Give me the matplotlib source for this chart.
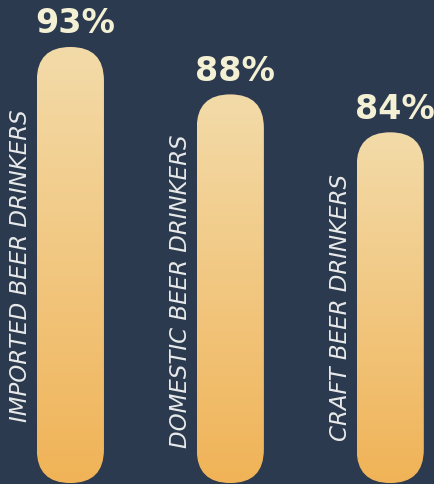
import numpy as np
import matplotlib
matplotlib.use("Agg")
import matplotlib.pyplot as plt
from matplotlib.patches import FancyBboxPatch
from matplotlib.colors import LinearSegmentedColormap
from matplotlib.transforms import blended_transform_factory

# dados
categorias = ["IMPORTED BEER DRINKERS", "DOMESTIC BEER DRINKERS", "CRAFT BEER DRINKERS"]
percentuais = [93, 88, 84]
rotulos = ["93%", "88%", "84%"]

fundo = "#2b3a4f"
base = 47.0
largura = 0.42

fig = plt.figure(figsize=(4.35, 4.85), dpi=100, facecolor=fundo)
ax = fig.add_axes([0, 0, 1, 1])
ax.set_facecolor(fundo)
ax.set_xlim(-0.44, 2.28)
ax.set_ylim(46.9, 98.06)
ax.axis("off")

# escala: unidades de y por pixel / unidades de x por pixel
px_x = (2.28 + 0.44) / 435
px_y = (98.06 - 46.9) / 485
aspecto = px_y / px_x

cmap = LinearSegmentedColormap.from_list("cerveja", ["#f0b357", "#f3dba9"])
grad = np.linspace(0, 1, 256).reshape(-1, 1)

trans_lbl = blended_transform_factory(ax.transData, ax.transAxes)
pos_rotulo = [266, 291, 308]

for i, (cat, val, txt) in enumerate(zip(categorias, percentuais, rotulos)):
    x0 = i - largura / 2
    barra = FancyBboxPatch((x0, base), largura, val - base,
                           boxstyle=f"round,pad=0,rounding_size={largura / 2}",
                           mutation_aspect=aspecto, facecolor="none",
                           edgecolor="none")
    ax.add_patch(barra)
    img = ax.imshow(grad, cmap=cmap, origin="lower", aspect="auto",
                    extent=(x0, x0 + largura, base, val), zorder=2)
    img.set_clip_path(barra)

    ax.text(i + 0.03, val + 0.8, txt, ha="center", va="bottom",
            fontsize=24, fontweight="bold", color="#f4f0d4", family="DejaVu Sans")
    ax.text(i - 0.31, 1 - pos_rotulo[i] / 485, cat, transform=trans_lbl,
            rotation=90, ha="center", va="center", fontsize=16.5,
            style="italic", color="#e9eaea", family="DejaVu Sans")

fig.savefig("out.png", dpi=100, facecolor=fundo)
